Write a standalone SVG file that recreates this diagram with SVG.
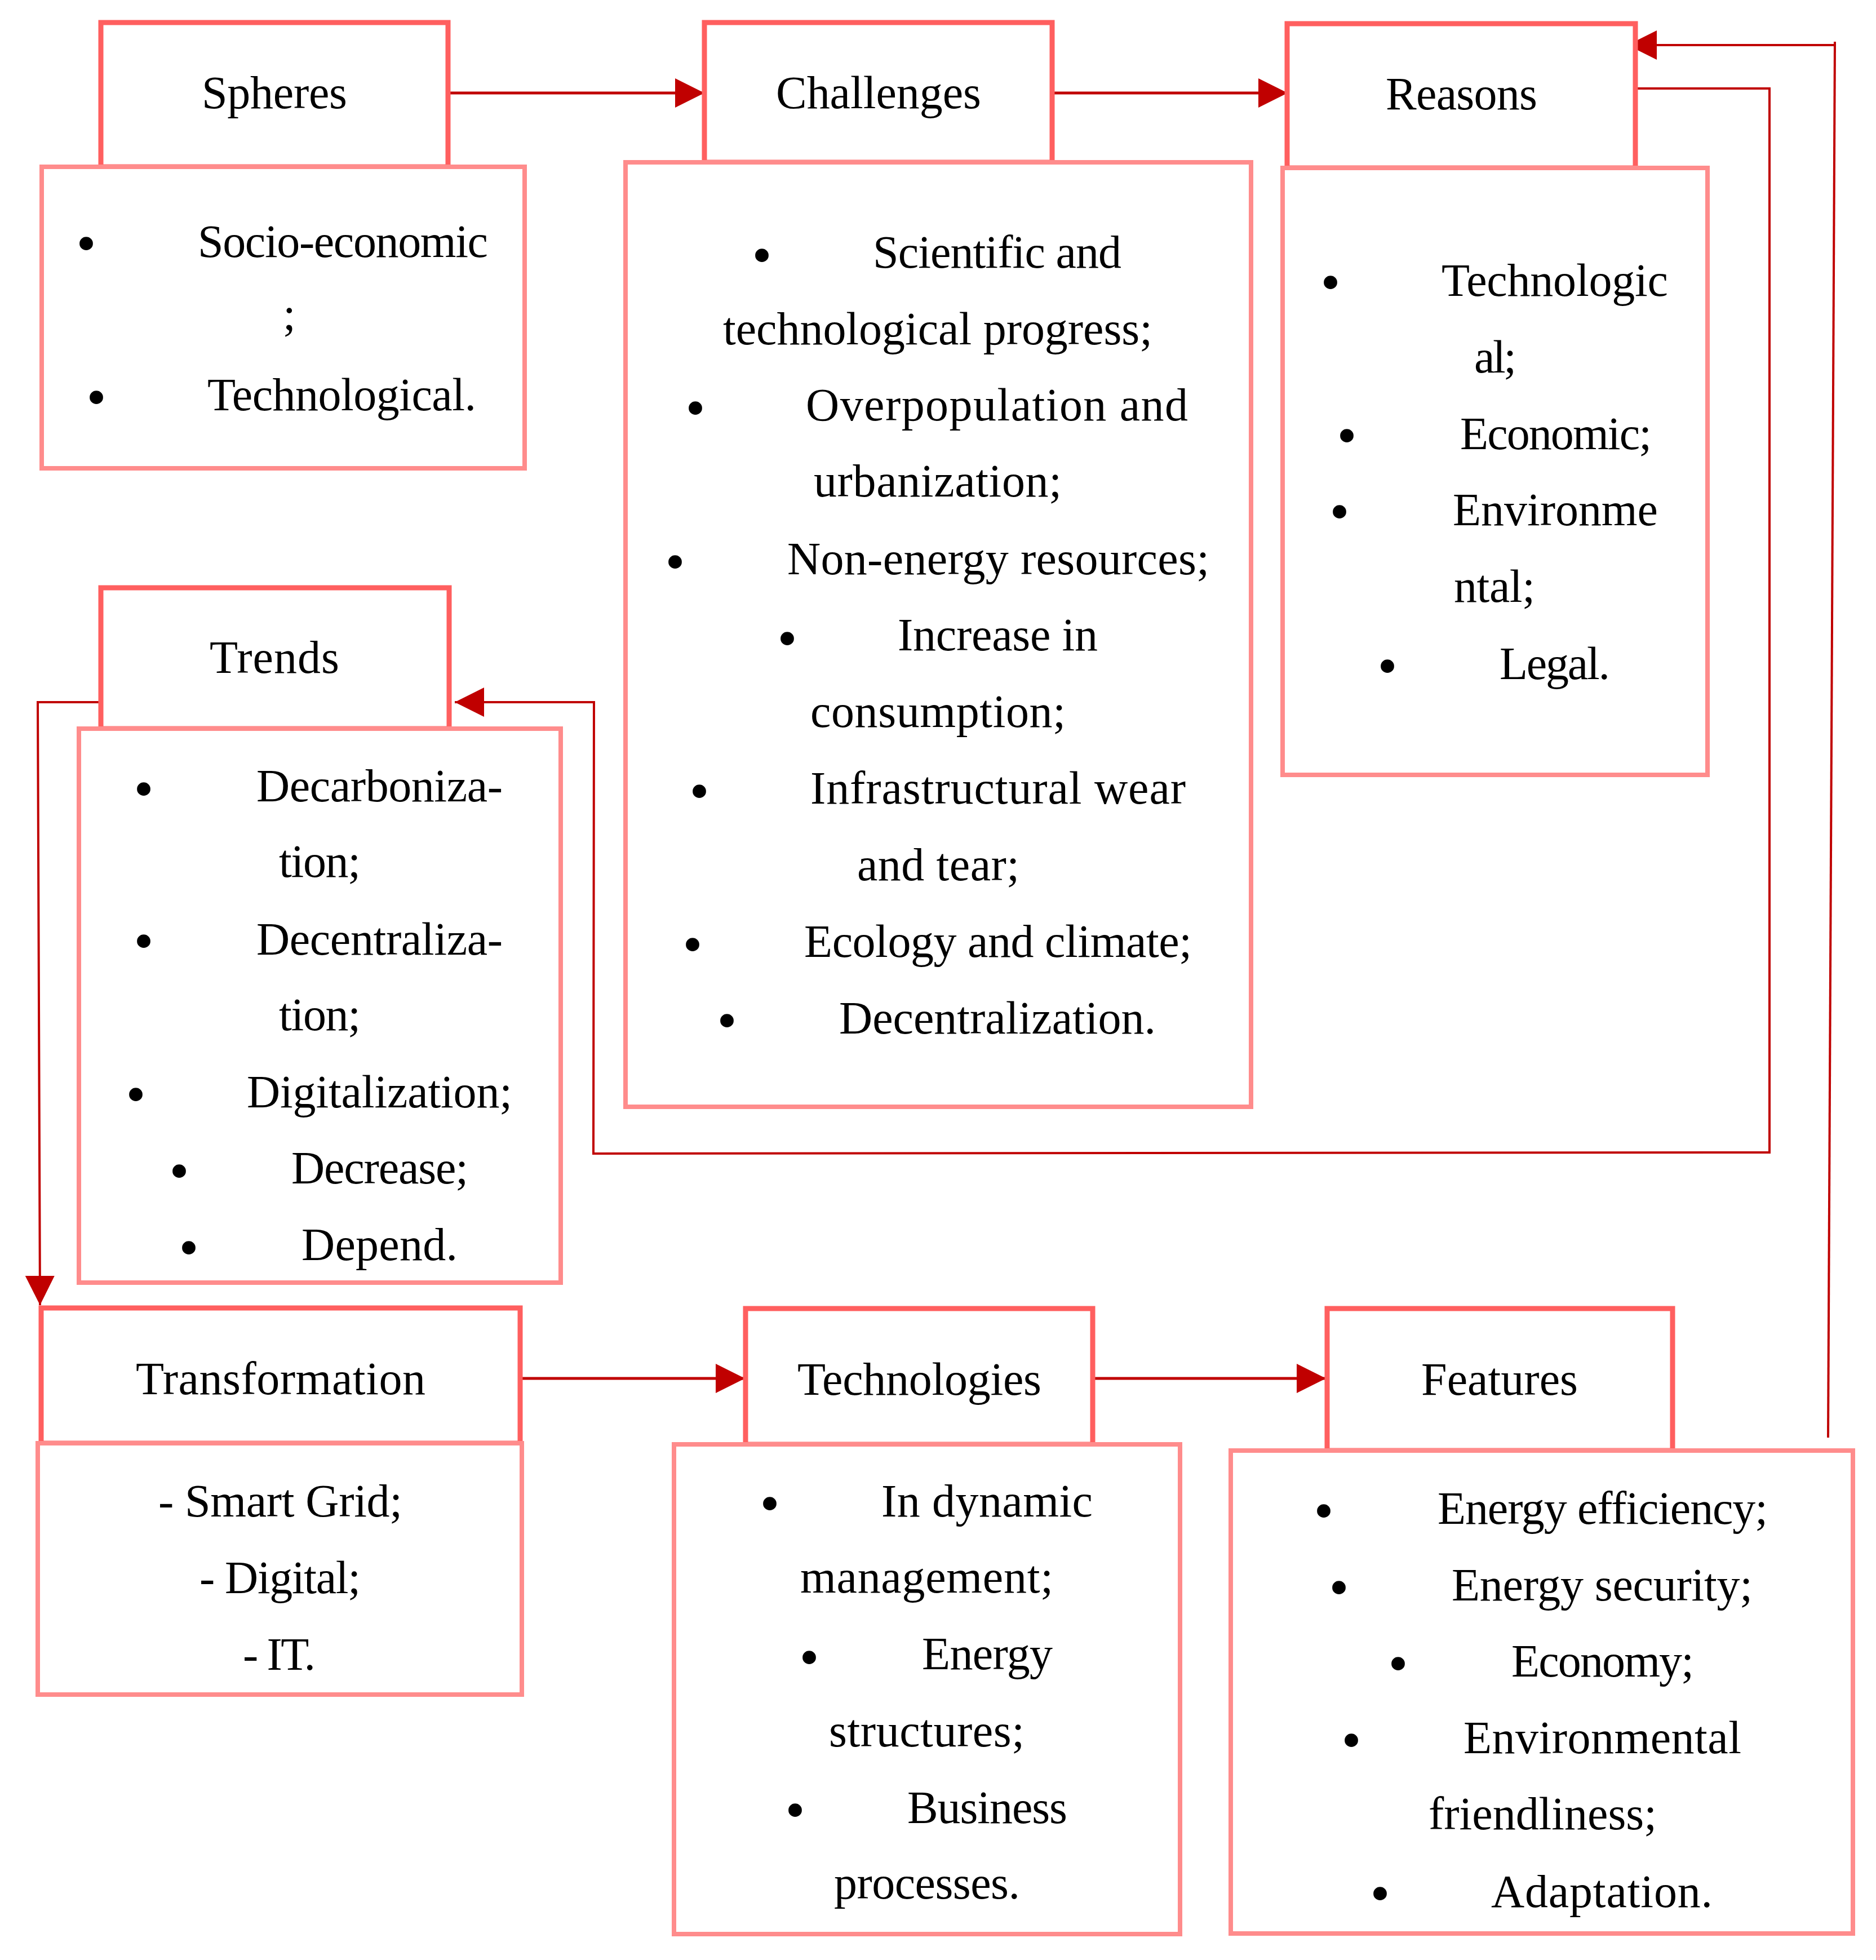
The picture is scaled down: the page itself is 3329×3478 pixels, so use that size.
<svg xmlns="http://www.w3.org/2000/svg" width="3329" height="3478" viewBox="0 0 3329 3478">
<style>
.hd{fill:#FFFFFF;stroke:#FF5F5F;stroke-width:9}
.bd{fill:#FFFFFF;stroke:#FF8C8C;stroke-width:8}
text{font-family:"Liberation Serif","Times New Roman",serif;font-size:82px;fill:#000000}
.b{font-size:100px;text-anchor:middle}
.c{fill:none;stroke:#C00000;stroke-width:5}
.c2{fill:none;stroke:#C00000;stroke-width:4}
</style>
<defs>
<marker id="ah" markerUnits="userSpaceOnUse" markerWidth="52" markerHeight="52" viewBox="0 0 52 52" refX="52" refY="26" orient="auto">
<path d="M0,0 L52,26 L0,52 z" fill="#C00000"/>
</marker>
</defs>
<rect width="3329" height="3478" fill="#FFFFFF"/>

<g id="connectors">
<path class="c" d="M795,165 L1250,165" marker-end="url(#ah)"/>
<path class="c" d="M1867,165 L2285,165" marker-end="url(#ah)"/>
<path class="c2" d="M2902,157 L3140,157 L3140,2045 L1053,2047 L1054,1246 L807,1246" marker-end="url(#ah)"/>
<path class="c2" d="M182,1246 L67,1246 L71,2316" marker-end="url(#ah)"/>
<path class="c" d="M923,2446 L1322,2446" marker-end="url(#ah)"/>
<path class="c" d="M1940,2446 L2353,2446" marker-end="url(#ah)"/>
<path class="c2" d="M3244,2551 L3256,74"/>
<path class="c2" d="M3256,80 L2888,80" marker-end="url(#ah)"/>
</g>

<g id="spheres">
<rect class="hd" x="179" y="40" width="616" height="256"/>
<rect class="bd" x="74" y="296" width="857" height="535"/>
<text x="358" y="192" textLength="258" lengthAdjust="spacing">Spheres</text>
<text class="b" x="153" y="465">•</text>
<text x="351" y="456" textLength="515" lengthAdjust="spacing">Socio-economic</text>
<text x="502" y="585">;</text>
<text class="b" x="171" y="738">•</text>
<text x="368" y="728" textLength="477" lengthAdjust="spacing">Technological.</text>
</g>

<g id="challenges">
<rect class="hd" x="1250" y="40" width="617" height="248"/>
<rect class="bd" x="1110" y="288" width="1110" height="1676"/>
<text x="1377" y="192" textLength="364" lengthAdjust="spacing">Challenges</text>
<text class="b" x="1352" y="486">•</text>
<text x="1549" y="475" textLength="441" lengthAdjust="spacing">Scientific and</text>
<text x="1283" y="611" textLength="762" lengthAdjust="spacing">technological progress;</text>
<text class="b" x="1234" y="757">•</text>
<text x="1430" y="746" textLength="678" lengthAdjust="spacing">Overpopulation and</text>
<text x="1444" y="881" textLength="440" lengthAdjust="spacing">urbanization;</text>
<text class="b" x="1198" y="1030">•</text>
<text x="1397" y="1019" textLength="749" lengthAdjust="spacing">Non-energy resources;</text>
<text class="b" x="1397" y="1166">•</text>
<text x="1593" y="1154" textLength="355" lengthAdjust="spacing">Increase in</text>
<text x="1438" y="1290" textLength="453" lengthAdjust="spacing">consumption;</text>
<text class="b" x="1241" y="1437">•</text>
<text x="1438" y="1426" textLength="666" lengthAdjust="spacing">Infrastructural wear</text>
<text x="1521" y="1562" textLength="288" lengthAdjust="spacing">and tear;</text>
<text class="b" x="1229" y="1709">•</text>
<text x="1427" y="1698" textLength="688" lengthAdjust="spacing">Ecology and climate;</text>
<text class="b" x="1290" y="1844">•</text>
<text x="1489" y="1834" textLength="562" lengthAdjust="spacing">Decentralization.</text>
</g>

<g id="reasons">
<rect class="hd" x="2284" y="42" width="618" height="256"/>
<rect class="bd" x="2276" y="298" width="754" height="1077"/>
<text x="2459" y="194" textLength="269" lengthAdjust="spacing">Reasons</text>
<text class="b" x="2361" y="534">•</text>
<text x="2558" y="525" textLength="402" lengthAdjust="spacing">Technologic</text>
<text x="2616" y="661" textLength="75" lengthAdjust="spacing">al;</text>
<text class="b" x="2390" y="806">•</text>
<text x="2591" y="797" textLength="340" lengthAdjust="spacing">Economic;</text>
<text class="b" x="2377" y="941">•</text>
<text x="2578" y="932" textLength="364" lengthAdjust="spacing">Environme</text>
<text x="2580" y="1068" textLength="144" lengthAdjust="spacing">ntal;</text>
<text class="b" x="2462" y="1215">•</text>
<text x="2661" y="1205" textLength="196" lengthAdjust="spacing">Legal.</text>
</g>

<g id="trends">
<rect class="hd" x="179" y="1043" width="618" height="250"/>
<rect class="bd" x="140" y="1293" width="855" height="983"/>
<text x="372" y="1194" textLength="230" lengthAdjust="spacing">Trends</text>
<text class="b" x="255" y="1433">•</text>
<text x="455" y="1422" textLength="437" lengthAdjust="spacing">Decarboniza-</text>
<text x="495" y="1556" textLength="145" lengthAdjust="spacing">tion;</text>
<text class="b" x="255" y="1703">•</text>
<text x="455" y="1694" textLength="437" lengthAdjust="spacing">Decentraliza-</text>
<text x="495" y="1828" textLength="145" lengthAdjust="spacing">tion;</text>
<text class="b" x="241" y="1975">•</text>
<text x="438" y="1965" textLength="471" lengthAdjust="spacing">Digitalization;</text>
<text class="b" x="318" y="2111">•</text>
<text x="517" y="2100" textLength="314" lengthAdjust="spacing">Decrease;</text>
<text class="b" x="335" y="2247">•</text>
<text x="535" y="2236" textLength="277" lengthAdjust="spacing">Depend.</text>
</g>

<g id="transformation">
<rect class="hd" x="73" y="2321" width="850" height="240"/>
<rect class="bd" x="67" y="2561" width="859" height="446"/>
<text x="241" y="2474" textLength="514" lengthAdjust="spacing">Transformation</text>
<text x="281" y="2691" textLength="433" lengthAdjust="spacing">- Smart Grid;</text>
<text x="354" y="2827" textLength="286" lengthAdjust="spacing">- Digital;</text>
<text x="431" y="2963" textLength="129" lengthAdjust="spacing">- IT.</text>
</g>

<g id="technologies">
<rect class="hd" x="1323" y="2322" width="616" height="241"/>
<rect class="bd" x="1196" y="2563" width="898" height="869"/>
<text x="1415" y="2475" textLength="433" lengthAdjust="spacing">Technologies</text>
<text class="b" x="1366" y="2701">•</text>
<text x="1564" y="2691" textLength="375" lengthAdjust="spacing">In dynamic</text>
<text x="1420" y="2826" textLength="449" lengthAdjust="spacing">management;</text>
<text class="b" x="1436" y="2974">•</text>
<text x="1636" y="2962" textLength="232" lengthAdjust="spacing">Energy</text>
<text x="1471" y="3099" textLength="347" lengthAdjust="spacing">structures;</text>
<text class="b" x="1411" y="3245">•</text>
<text x="1610" y="3235" textLength="284" lengthAdjust="spacing">Business</text>
<text x="1480" y="3369" textLength="330" lengthAdjust="spacing">processes.</text>
</g>

<g id="features">
<rect class="hd" x="2355" y="2322" width="613" height="252"/>
<rect class="bd" x="2184" y="2574" width="1104" height="857"/>
<text x="2522" y="2475" textLength="278" lengthAdjust="spacing">Features</text>
<text class="b" x="2349" y="2714">•</text>
<text x="2551" y="2704" textLength="586" lengthAdjust="spacing">Energy efficiency;</text>
<text class="b" x="2376" y="2850">•</text>
<text x="2576" y="2840" textLength="534" lengthAdjust="spacing">Energy security;</text>
<text class="b" x="2481" y="2985">•</text>
<text x="2682" y="2975" textLength="324" lengthAdjust="spacing">Economy;</text>
<text class="b" x="2398" y="3121">•</text>
<text x="2597" y="3111" textLength="493" lengthAdjust="spacing">Environmental</text>
<text x="2535" y="3246" textLength="405" lengthAdjust="spacing">friendliness;</text>
<text class="b" x="2449" y="3393">•</text>
<text x="2646" y="3384" textLength="393" lengthAdjust="spacing">Adaptation.</text>
</g>
</svg>
